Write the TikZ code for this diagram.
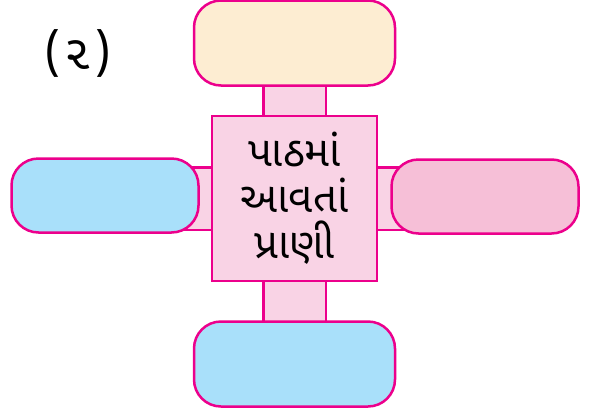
\documentclass[tikz,border=0pt]{standalone}
\usepackage{fontspec}
\newfontfamily\gujfont[Script=Gujarati]{Noto Sans Gujarati UI}
\usetikzlibrary{positioning, backgrounds}
\definecolor{rim}{HTML}{EC008C}
\definecolor{hubfill}{HTML}{F9D3E5}
\definecolor{creamfill}{HTML}{FDEDD2}
\definecolor{skyfill}{HTML}{A9E0FA}
\definecolor{rosefill}{HTML}{F6BFD7}

\begin{document}
\begin{tikzpicture}[
    hub/.style={draw=rim, fill=hubfill, line width=2.5pt, minimum width=165pt, minimum height=165pt, inner sep=0pt, align=center, font=\gujfont\fontsize{42}{46}\selectfont},
    blank/.style={draw=rim, line width=2.5pt, rounded corners=27pt, inner sep=0pt},
    widebox/.style={blank, minimum width=201pt, minimum height=85pt},
    flatbox/.style={blank, minimum width=187pt, minimum height=74pt},
    bar/.style={rim, line width=2.5pt, double=hubfill, double distance=60pt}
]
\useasboundingbox (0,0) rectangle (589pt,-413pt);

% Nodes
\node [hub] (topic) at (294.5pt,-198.5pt) {પાઠમાં\\આવતાં\\પ્રાણી};
\node [widebox, fill=creamfill, above=28pt of topic] (upper) {};
\node [widebox, fill=skyfill, below=38pt of topic] (lower) {};
\node [flatbox, fill=skyfill, left=11pt of topic, yshift=3pt] (leftbox) {};
\node [flatbox, fill=rosefill, right=12pt of topic, yshift=2pt] (rightbox) {};
\node [font=\gujfont\fontsize{48}{50}\selectfont] (num) at (78pt,-53pt) {(\kern3pt૨\kern3pt)};

% Connectors
\begin{scope}[on background layer]
\draw [bar] (topic.center) -- (topic.center |- upper.center);
\draw [bar] (topic.center) -- (topic.center |- lower.center);
\draw [bar] (topic.center) -- (topic.center -| leftbox.center);
\draw [bar] (topic.center) -- (topic.center -| rightbox.center);
\end{scope}

\end{tikzpicture}
\end{document}
